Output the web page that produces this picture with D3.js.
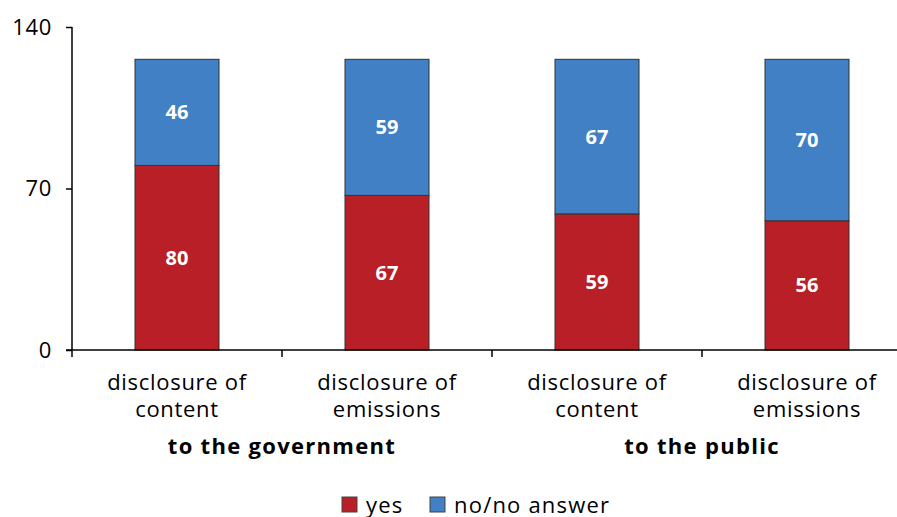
<!DOCTYPE html>
<html>
<head>
<meta charset="utf-8">
<script src="https://cdn.jsdelivr.net/npm/d3@7"></script>
<style>
  body { margin: 0; background: #fff; }
  svg text { font-family: "Open Sans", "Noto Sans", sans-serif; letter-spacing: 0.7px; }
</style>
</head>
<body>
<svg id="chart" width="897" height="517"></svg>
<script>
// chart data
var categories = ["disclosure of|content", "disclosure of|emissions", "disclosure of|content", "disclosure of|emissions"];
var groups = ["to the government", "to the public"];
var yes = [80, 67, 59, 56];
var noAnswer = [46, 59, 67, 70];
var seriesNames = ["yes", "no/no answer"];
var yTicks = [0, 70, 140];

var colors = ["#b81f26", "#4180c4"];

var svg = d3.select("#chart"),
    plotLeft = 72, plotRight = 912, plotTop = 27, plotBottom = 350;

var x = d3.scaleBand()
    .domain(d3.range(categories.length))
    .range([plotLeft, plotRight])
    .paddingInner(0.6)
    .paddingOuter(0.3);

var xOuter = d3.scaleBand()
    .domain(d3.range(categories.length))
    .range([plotLeft, plotRight]);

var y = d3.scaleLinear().domain([0, 140]).range([plotBottom, plotTop]);

var rows = categories.map(function(c, i) {
  return { i: i, yes: yes[i], no: noAnswer[i] };
});
var stack = d3.stack().keys(["yes", "no"])(rows);

// bars
var layers = svg.selectAll("g.layer")
    .data(stack)
  .enter().append("g")
    .attr("class", "layer")
    .attr("fill", function(d, k) { return colors[k]; });

layers.selectAll("rect")
    .data(function(d) { return d; })
  .enter().append("rect")
    .attr("x", function(d) { return x(d.data.i); })
    .attr("y", function(d) { return y(d[1]); })
    .attr("width", x.bandwidth())
    .attr("height", function(d) { return y(d[0]) - y(d[1]); })
    .attr("stroke", "#333")
    .attr("stroke-width", 1);

layers.selectAll("text")
    .data(function(d) { return d; })
  .enter().append("text")
    .attr("x", function(d) { return x(d.data.i) + x.bandwidth() / 2; })
    .attr("y", function(d) { return (y(d[0]) + y(d[1])) / 2 + 7; })
    .attr("text-anchor", "middle")
    .attr("fill", "#fff")
    .attr("font-weight", "bold")
    .attr("font-size", 20)
    .style("letter-spacing", "0px")
    .text(function(d) { return d[1] - d[0]; });

// y axis
var yAxis = svg.append("g")
    .attr("transform", "translate(" + plotLeft + ",0)")
    .call(d3.axisLeft(y).tickValues(yTicks).tickSize(6).tickPadding(14));
yAxis.selectAll("text").attr("font-size", 22).attr("fill", "#000")
    .style("font-family", "'Open Sans', 'Noto Sans', sans-serif");
yAxis.selectAll("line, path").attr("stroke", "#000").attr("stroke-width", 1.5);
yAxis.select("path").attr("d", "M0," + plotTop + "V" + plotBottom);

// x axis
var xAxis = svg.append("g")
    .attr("transform", "translate(0," + plotBottom + ")");
xAxis.append("line")
    .attr("x1", plotLeft - 6).attr("x2", 897)
    .attr("stroke", "#000").attr("stroke-width", 1.5);
xAxis.selectAll("line.tick")
    .data(d3.range(categories.length + 1))
  .enter().append("line")
    .attr("class", "tick")
    .attr("x1", function(i) { return plotLeft + i * xOuter.bandwidth(); })
    .attr("x2", function(i) { return plotLeft + i * xOuter.bandwidth(); })
    .attr("y1", 0).attr("y2", 7)
    .attr("stroke", "#000").attr("stroke-width", 1.5);

var labels = xAxis.selectAll("text.cat")
    .data(categories)
  .enter().append("text")
    .attr("class", "cat")
    .attr("text-anchor", "middle")
    .attr("font-size", 22)
    .attr("fill", "#000");
labels.each(function(c, i) {
  var parts = c.split("|");
  var t = d3.select(this);
  parts.forEach(function(p, j) {
    t.append("tspan")
      .attr("x", x(i) + x.bandwidth() / 2)
      .attr("y", 40 + j * 27)
      .text(p);
  });
});

xAxis.selectAll("text.group")
    .data(groups)
  .enter().append("text")
    .attr("class", "group")
    .attr("text-anchor", "middle")
    .attr("x", function(g, k) { return plotLeft + (2 * k + 1) * xOuter.bandwidth(); })
    .attr("y", 104)
    .attr("font-size", 22)
    .attr("font-weight", "bold")
    .attr("fill", "#000")
    .style("letter-spacing", "1.3px")
    .text(function(g) { return g; });

// legend
var legend = svg.append("g").attr("transform", "translate(342,497)");
var offsets = [0, 88];
var items = legend.selectAll("g")
    .data(seriesNames)
  .enter().append("g")
    .attr("transform", function(d, k) { return "translate(" + offsets[k] + ",0)"; });
items.append("rect")
    .attr("width", 15).attr("height", 15)
    .attr("fill", function(d, k) { return colors[k]; })
    .attr("stroke", "#444");
items.append("text")
    .attr("x", 24).attr("y", 16)
    .attr("font-size", 22)
    .attr("fill", "#000")
    .style("letter-spacing", "1.2px")
    .text(function(d) { return d; });
</script>
</body>
</html>
